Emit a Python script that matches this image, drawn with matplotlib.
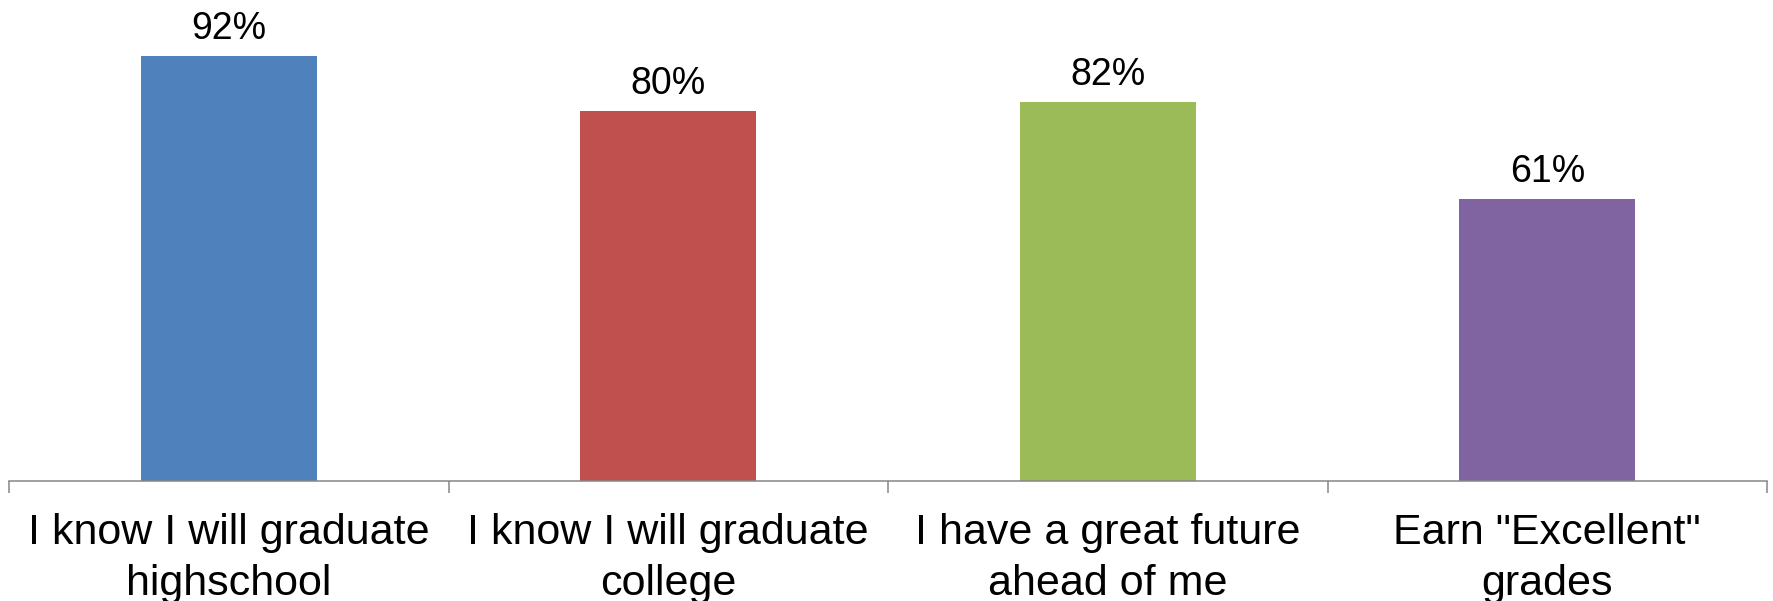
import matplotlib
matplotlib.use("Agg")
import matplotlib.pyplot as plt

categories = ["I know I will graduate\nhighschool", "I know I will graduate\ncollege",
              "I have a great future\nahead of me", "Earn \"Excellent\"\ngrades"]
values = [92, 80, 82, 61]
colors = ["#4F81BD", "#C0504D", "#9BBB59", "#8064A2"]

plt.rcParams['font.family'] = ['Liberation Sans', 'DejaVu Sans']

W, H = 1773, 601
fig = plt.figure(figsize=(W / 100, H / 100), dpi=100)
left, right, bottom_px, top_px = 9, 1767, 480.5, 19
ax = fig.add_axes([left / W, (H - bottom_px) / H, (right - left) / W, (bottom_px - top_px) / H])

x = list(range(len(values)))
ax.bar(x, values, width=0.4, color=colors)
for xi, v in zip(x, values):
    ax.annotate(f"{v}%", (xi, v), xytext=(0, 6.5), textcoords="offset points",
                ha="center", va="bottom", fontsize=27, clip_on=False)

ax.set_xlim(-0.5, len(values) - 0.5)
ax.set_ylim(0, 100)
for s in ["top", "right", "left"]:
    ax.spines[s].set_visible(False)
ax.spines["bottom"].set_color("#868686")
ax.spines["bottom"].set_linewidth(1.1)
ax.set_yticks([])
ax.set_xticks([i - 0.5 for i in range(len(values) + 1)])
ax.set_xticklabels([])
ax.tick_params(axis="x", which="major", length=8.6, width=1.1, color="#868686", direction="out")
ax.set_xticks(x, minor=True)
ax.set_xticklabels(categories, minor=True, fontsize=31, linespacing=1.36)
ax.tick_params(axis="x", which="minor", length=0, pad=23.5)

fig.savefig("out.png", dpi=100)
